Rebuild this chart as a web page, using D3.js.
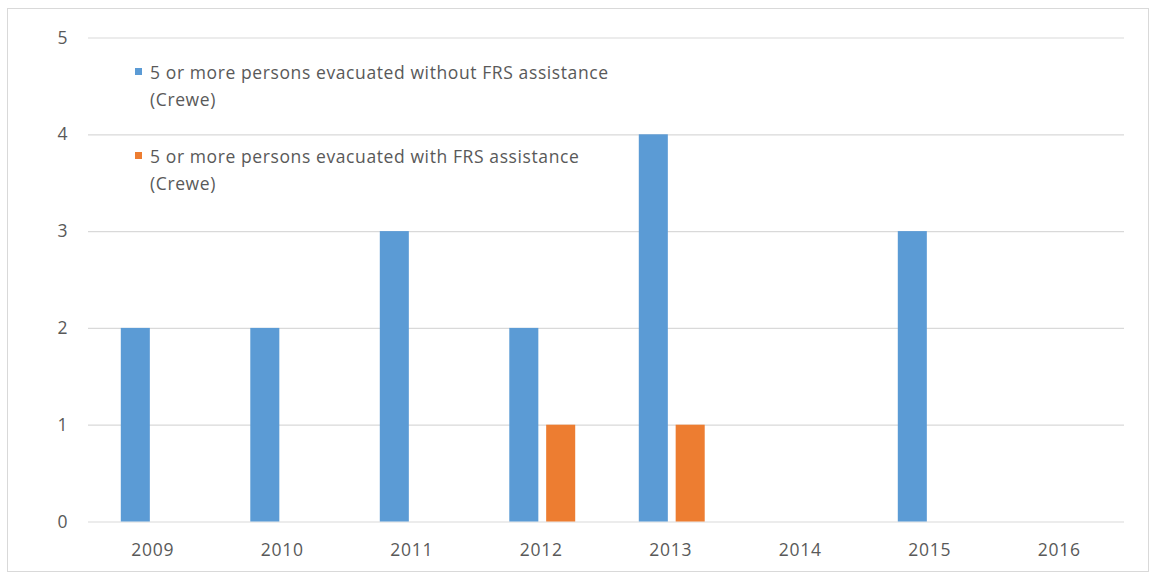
<!DOCTYPE html>
<html>
<head>
<meta charset="utf-8">
<script src="https://cdn.jsdelivr.net/npm/d3@7"></script>
<style>
  html, body { margin: 0; padding: 0; background: #fff; }
  svg { display: block; font-family: "Open Sans", "Noto Sans", sans-serif; }
</style>
</head>
<body>
<svg id="chart" width="1151" height="574"></svg>
<script>
// Incidents in Crewe where 5 or more persons were evacuated, by year
const years = ["2009", "2010", "2011", "2012", "2013", "2014", "2015", "2016"];
const withoutFRS = [2, 2, 3, 2, 4, 0, 3, 0];
const withFRS = [0, 0, 0, 1, 1, 0, 0, 0];
const seriesNames = [
  ["5 or more persons evacuated without FRS assistance", "(Crewe)"],
  ["5 or more persons evacuated with FRS assistance", "(Crewe)"]
];
const seriesColors = ["#5b9bd5", "#ed7d31"];
const yTicks = [0, 1, 2, 3, 4, 5];

const svg = d3.select("#chart");
const textColor = "#595959";
const fontFamily = "Open Sans, sans-serif";

// outer chart frame
svg.append("rect")
  .attr("x", 7.5).attr("y", 8.5)
  .attr("width", 1141).attr("height", 563)
  .attr("fill", "#fff").attr("stroke", "#d9d9d9").attr("stroke-width", 1);

const plot = { left: 88, right: 1124, top: 37.5, bottom: 521.5 };

const x = d3.scaleBand().domain(years).range([plot.left, plot.right]).padding(0);
const y = d3.scaleLinear().domain([0, 5]).range([plot.bottom, plot.top]);

// value axis with horizontal gridlines
const yAxis = d3.axisLeft(y).tickValues(yTicks)
  .tickSize(-(plot.right - plot.left)).tickPadding(20).tickFormat(d3.format("d"));
const gy = svg.append("g").attr("transform", `translate(${plot.left},0)`).call(yAxis);
gy.select(".domain").remove();
gy.selectAll(".tick line").attr("stroke", "#d9d9d9").attr("stroke-width", 1.2);
gy.selectAll(".tick text").attr("fill", textColor).attr("font-size", 17.5)
  .attr("font-family", fontFamily).attr("letter-spacing", 0.6);

// category axis
const xAxis = d3.axisBottom(x).tickSize(0).tickPadding(22);
const gx = svg.append("g").attr("transform", `translate(0,${plot.bottom})`).call(xAxis);
gx.select(".domain").remove();
gx.selectAll(".tick text").attr("fill", textColor).attr("font-size", 17.5)
  .attr("font-family", fontFamily).attr("letter-spacing", 0.8);

// clustered bars: overlap -27%, gap width 219%
const band = x.bandwidth();
const w = band / (2 + 0.27 + 2.19);
const gap = 0.27 * w;
const inner = d3.scaleBand().domain([0, 1]).range([0, 2 * w + gap])
  .paddingInner(gap / (w + gap)).paddingOuter(0);

const data = years.map((yr, i) => ({ year: yr, values: [withoutFRS[i], withFRS[i]] }));

const groups = svg.append("g").selectAll("g")
  .data(data).join("g")
  .attr("transform", d => `translate(${x(d.year) + (band - (2 * w + gap)) / 2 + 1},0)`);

groups.selectAll("rect")
  .data(d => d.values.map((v, k) => ({ v, k })))
  .join("rect")
  .attr("x", d => inner(d.k))
  .attr("width", inner.bandwidth())
  .attr("y", d => y(d.v))
  .attr("height", d => y(0) - y(d.v))
  .attr("fill", d => seriesColors[d.k]);

// legend inside the plot, top-left
const legend = svg.append("g");
const legendTops = [64, 148];
seriesNames.forEach((lines, k) => {
  const g = legend.append("g").attr("transform", `translate(135,${legendTops[k]})`);
  g.append("rect").attr("x", 0).attr("y", 4).attr("width", 7).attr("height", 7)
    .attr("fill", seriesColors[k]);
  const t = g.append("text").attr("x", 15).attr("y", 15)
    .attr("fill", textColor).attr("font-size", 17.5)
    .attr("font-family", fontFamily).attr("letter-spacing", 0.6);
  lines.forEach((ln, j) => {
    t.append("tspan").attr("x", 15).attr("dy", j === 0 ? 0 : 27).text(ln);
  });
});
</script>
</body>
</html>
